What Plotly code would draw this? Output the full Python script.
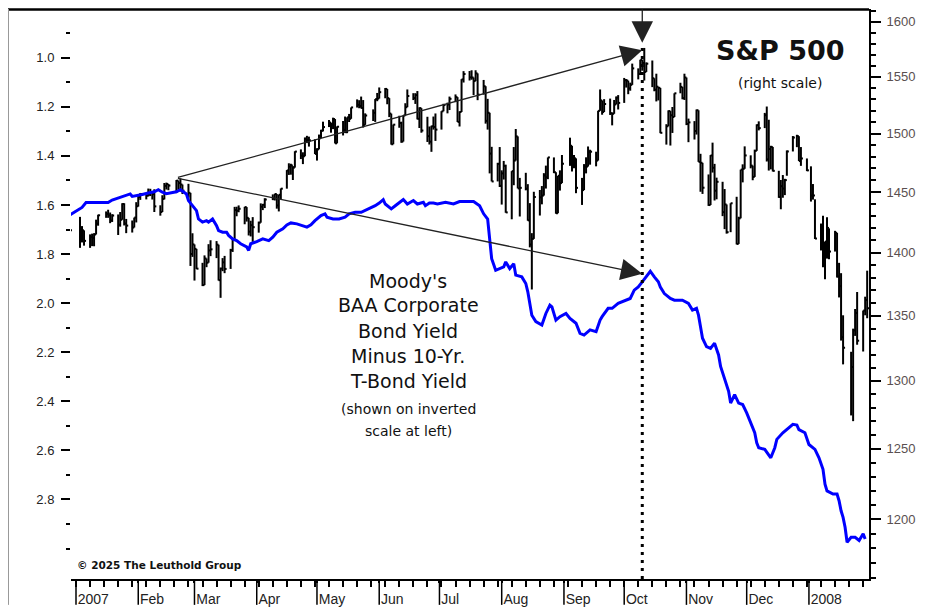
import math
import pandas as pd
import plotly.graph_objects as go

# ---------------- data ----------------
holidays = ["2007-01-01", "2007-01-02", "2007-01-15", "2007-02-19", "2007-04-06",
            "2007-05-28", "2007-07-04", "2007-09-03", "2007-11-22", "2007-12-25",
            "2008-01-01", "2008-01-21"]
trade_days = pd.bdate_range("2006-12-29", "2008-01-30")
trade_days = trade_days[~trade_days.isin(pd.to_datetime(holidays))]

spx_close = [
    1418.3,
    1416.6, 1418.3, 1409.7, 1412.8, 1412.1, 1414.9, 1423.8, 1430.7, 1431.9, 1430.6, 1426.4, 1430.5, 1422.9, 1427.0, 1440.1, 1423.9, 1422.2, 1420.6, 1428.8, 1438.2,
    1445.9, 1448.4, 1447.0, 1448.0, 1450.0, 1448.3, 1438.1, 1433.4, 1444.3, 1455.3, 1456.8, 1455.5, 1459.7, 1457.6, 1456.4, 1451.2, 1449.4, 1399.0, 1406.8,
    1403.2, 1387.2, 1374.1, 1395.4, 1392.0, 1401.9, 1402.8, 1406.6, 1378.0, 1387.2, 1392.3, 1387.0, 1402.1, 1410.9, 1435.0, 1434.5, 1436.1, 1437.5, 1428.6, 1417.2, 1422.5, 1420.9,
    1424.6, 1437.8, 1439.4, 1443.8, 1444.6, 1448.4, 1438.9, 1447.8, 1452.9, 1468.3, 1471.5, 1472.5, 1470.7, 1484.4, 1480.9, 1480.4, 1495.4, 1494.3, 1494.1, 1482.4,
    1486.3, 1495.9, 1502.4, 1505.6, 1509.5, 1507.7, 1512.6, 1491.5, 1505.9, 1503.2, 1501.2, 1514.1, 1512.8, 1522.8, 1525.1, 1524.1, 1522.3, 1507.5, 1515.7, 1518.1, 1530.2, 1530.6,
    1536.3, 1539.2, 1531.0, 1517.4, 1490.7, 1507.7, 1509.1, 1493.0, 1515.7, 1523.0, 1532.9, 1531.1, 1533.7, 1512.8, 1522.2, 1502.6, 1497.7, 1492.9, 1506.3, 1505.7, 1503.4,
    1519.4, 1524.9, 1525.4, 1530.4, 1531.9, 1510.1, 1518.8, 1547.7, 1552.5, 1549.5, 1549.4, 1546.2, 1553.1, 1534.1, 1541.6, 1511.0, 1518.1, 1482.7, 1459.0, 1473.9, 1455.3,
    1465.8, 1472.2, 1433.1, 1467.7, 1476.7, 1497.5, 1453.1, 1453.6, 1452.9, 1426.5, 1406.7, 1411.3, 1445.9, 1445.6, 1447.1, 1464.1, 1462.5, 1479.4, 1466.8, 1432.4, 1463.8, 1457.6, 1474.0,
    1489.4, 1472.3, 1478.6, 1453.6, 1451.7, 1471.5, 1471.6, 1484.0, 1484.3, 1476.7, 1519.8, 1529.0, 1518.8, 1525.8, 1517.7, 1517.2, 1525.4, 1531.4, 1526.8,
    1547.0, 1546.6, 1539.6, 1542.8, 1557.6, 1552.6, 1565.2, 1562.5, 1554.4, 1561.8, 1548.7, 1538.5, 1541.2, 1540.1, 1500.6, 1506.3, 1519.6, 1515.9, 1514.4, 1535.3, 1541.0, 1531.0, 1549.4,
    1508.4, 1509.7, 1502.2, 1520.3, 1475.6, 1474.8, 1453.7, 1439.2, 1481.1, 1470.6, 1451.2, 1458.7, 1433.3, 1439.7, 1416.8, 1440.7, 1407.2, 1428.2, 1469.0, 1469.7, 1481.1,
    1472.4, 1462.8, 1485.0, 1507.3, 1504.7, 1516.0, 1477.7, 1486.6, 1488.4, 1468.0, 1445.9, 1455.0, 1453.0, 1460.1, 1484.5, 1496.5, 1497.7, 1476.3, 1478.5, 1468.4,
    1447.2, 1447.2, 1411.6, 1416.2, 1390.2, 1409.1, 1420.3, 1401.0, 1416.3, 1381.0, 1373.2, 1333.3, 1325.2, 1310.5, 1338.6, 1352.1, 1330.6, 1354.0, 1362.3, 1355.8,
]
spx_high = [
    1427.0,
    1429.4, 1421.8, 1418.3, 1415.0, 1415.6, 1416.0, 1427.1, 1431.2, 1433.9, 1435.3, 1433.0, 1431.6, 1431.4, 1433.4, 1440.7, 1440.7, 1427.7, 1426.4, 1428.8, 1441.6,
    1446.6, 1449.3, 1449.3, 1453.0, 1452.8, 1450.0, 1452.4, 1439.0, 1447.4, 1457.7, 1458.0, 1456.8, 1460.2, 1459.7, 1461.6, 1456.4, 1457.0, 1449.4, 1415.9,
    1406.8, 1403.2, 1391.9, 1397.9, 1395.4, 1407.0, 1410.2, 1409.5, 1406.6, 1388.1, 1395.7, 1397.5, 1403.2, 1411.5, 1437.7, 1437.8, 1438.9, 1437.7, 1437.5, 1428.6, 1426.2, 1429.2,
    1425.5, 1440.6, 1440.2, 1444.9, 1448.1, 1448.7, 1448.4, 1448.0, 1453.1, 1468.6, 1474.4, 1474.0, 1472.0, 1484.7, 1486.3, 1483.8, 1496.6, 1498.0, 1497.3, 1495.0,
    1487.3, 1499.1, 1503.3, 1510.3, 1511.8, 1509.5, 1513.8, 1512.6, 1506.2, 1510.9, 1514.8, 1514.1, 1517.1, 1522.8, 1529.9, 1529.2, 1532.4, 1529.3, 1517.6, 1521.1, 1530.2, 1535.6,
    1540.5, 1540.0, 1539.2, 1531.0, 1517.4, 1507.8, 1515.5, 1510.3, 1515.7, 1526.5, 1538.7, 1535.4, 1535.4, 1537.3, 1522.9, 1522.2, 1514.6, 1506.1, 1506.8, 1514.8, 1517.5,
    1519.5, 1526.0, 1527.0, 1532.4, 1534.3, 1531.9, 1519.4, 1547.9, 1555.1, 1555.2, 1555.9, 1549.4, 1555.9, 1553.1, 1547.2, 1541.6, 1530.4, 1518.1, 1488.5, 1474.8, 1488.3,
    1468.4, 1476.4, 1473.2, 1467.7, 1488.3, 1503.9, 1497.5, 1462.0, 1466.3, 1456.7, 1440.8, 1416.0, 1450.3, 1451.8, 1455.1, 1466.0, 1472.4, 1479.4, 1479.4, 1466.8, 1463.8, 1468.4, 1481.5,
    1496.4, 1489.4, 1481.5, 1478.6, 1462.0, 1473.7, 1479.5, 1488.8, 1486.0, 1484.3, 1519.9, 1538.7, 1529.0, 1530.1, 1530.6, 1518.4, 1529.4, 1532.5, 1533.7,
    1549.0, 1548.0, 1546.6, 1544.8, 1561.9, 1557.6, 1565.4, 1565.4, 1576.1, 1563.0, 1564.7, 1548.7, 1552.8, 1541.2, 1540.1, 1508.1, 1520.2, 1519.6, 1523.2, 1535.3, 1544.7, 1541.0, 1552.8,
    1549.4, 1513.0, 1510.8, 1521.0, 1520.3, 1482.5, 1474.8, 1464.9, 1481.4, 1492.1, 1473.9, 1462.2, 1458.7, 1452.6, 1439.7, 1440.7, 1446.1, 1429.5, 1469.0, 1473.5, 1488.9,
    1481.2, 1472.4, 1486.1, 1508.0, 1510.6, 1518.0, 1523.6, 1512.0, 1489.4, 1488.4, 1468.0, 1460.2, 1464.4, 1461.2, 1485.4, 1497.8, 1498.9, 1497.7, 1488.3, 1478.5,
    1471.8, 1456.8, 1444.0, 1423.9, 1430.3, 1409.2, 1429.1, 1419.9, 1417.9, 1416.3, 1391.9, 1383.6, 1350.3, 1322.1, 1339.9, 1355.2, 1368.6, 1354.0, 1364.9, 1385.6,
]
spx_low = [
    1416.8,
    1404.0, 1408.4, 1405.8, 1404.0, 1405.4, 1405.3, 1414.9, 1422.1, 1428.6, 1428.6, 1424.2, 1425.2, 1414.5, 1421.3, 1427.0, 1422.3, 1416.0, 1416.5, 1420.6, 1424.8,
    1437.9, 1443.5, 1443.9, 1446.4, 1446.7, 1443.8, 1433.4, 1430.4, 1433.4, 1443.9, 1452.2, 1451.6, 1449.2, 1452.0, 1450.5, 1448.4, 1445.5, 1389.4, 1396.7,
    1377.7, 1386.9, 1373.3, 1374.1, 1388.4, 1392.0, 1397.3, 1395.7, 1377.7, 1364.0, 1385.2, 1383.6, 1387.0, 1400.7, 1409.8, 1429.9, 1433.2, 1423.3, 1425.5, 1414.1, 1413.3, 1408.9,
    1416.4, 1424.6, 1435.0, 1436.7, 1443.3, 1443.0, 1436.2, 1433.9, 1444.1, 1452.9, 1464.5, 1464.7, 1460.2, 1470.7, 1478.0, 1473.7, 1480.4, 1491.7, 1488.7, 1482.3,
    1476.7, 1486.3, 1495.9, 1501.8, 1505.6, 1500.7, 1503.8, 1491.4, 1491.5, 1498.3, 1500.4, 1500.3, 1510.0, 1512.8, 1522.7, 1522.1, 1521.9, 1505.2, 1507.5, 1510.9, 1510.1, 1528.3,
    1530.6, 1530.9, 1525.6, 1514.3, 1490.4, 1490.7, 1505.0, 1492.0, 1493.0, 1515.7, 1523.0, 1529.3, 1525.9, 1512.3, 1504.8, 1500.7, 1492.7, 1490.5, 1484.2, 1503.4, 1493.6,
    1503.4, 1519.4, 1517.6, 1520.5, 1527.5, 1510.0, 1506.1, 1518.8, 1544.9, 1546.7, 1547.4, 1533.7, 1546.2, 1529.2, 1534.1, 1508.6, 1503.4, 1465.8, 1459.0, 1459.0, 1454.3,
    1439.6, 1460.6, 1432.8, 1427.4, 1455.8, 1476.7, 1453.1, 1429.7, 1451.5, 1426.2, 1404.4, 1370.6, 1411.3, 1430.5, 1439.8, 1447.1, 1453.0, 1460.9, 1466.0, 1432.0, 1432.4, 1451.3, 1457.6,
    1472.2, 1467.4, 1470.1, 1449.1, 1439.3, 1451.7, 1465.8, 1471.6, 1473.2, 1471.8, 1476.7, 1519.8, 1516.4, 1518.8, 1516.2, 1507.1, 1517.2, 1525.4, 1521.0,
    1526.8, 1540.4, 1534.5, 1537.6, 1542.8, 1547.7, 1551.6, 1555.5, 1546.7, 1554.4, 1540.8, 1537.1, 1528.1, 1529.0, 1500.3, 1490.4, 1506.3, 1489.6, 1500.5, 1514.4, 1535.3, 1530.0, 1529.4,
    1507.3, 1492.5, 1494.8, 1499.1, 1475.6, 1450.3, 1448.5, 1438.5, 1439.2, 1466.5, 1443.0, 1444.0, 1430.0, 1419.3, 1415.6, 1416.8, 1406.8, 1407.2, 1428.2, 1458.2, 1469.7,
    1470.1, 1460.0, 1462.8, 1485.0, 1502.7, 1504.7, 1475.9, 1468.2, 1469.2, 1467.4, 1445.2, 1435.7, 1445.3, 1447.5, 1463.8, 1484.5, 1488.2, 1476.3, 1472.2, 1467.7,
    1442.1, 1443.7, 1411.2, 1401.9, 1388.3, 1378.7, 1395.3, 1394.8, 1401.0, 1380.1, 1364.3, 1330.7, 1312.5, 1274.3, 1270.1, 1334.3, 1327.5, 1322.3, 1350.3, 1348.0,
]

spread_dates = [
    "2006-12-29", "2007-01-02", "2007-01-04", "2007-01-06", "2007-01-17", "2007-01-19", "2007-01-21", "2007-01-23",
    "2007-01-26", "2007-01-28", "2007-01-29", "2007-02-01", "2007-02-03", "2007-02-06", "2007-02-09", "2007-02-11",
    "2007-02-13", "2007-02-15", "2007-02-18", "2007-02-20", "2007-02-22", "2007-02-25", "2007-02-26", "2007-02-28",
    "2007-03-02", "2007-03-03", "2007-03-05", "2007-03-07", "2007-03-08", "2007-03-10", "2007-03-12", "2007-03-13",
    "2007-03-15", "2007-03-17", "2007-03-18", "2007-03-20", "2007-03-22", "2007-03-24", "2007-03-27", "2007-03-28",
    "2007-03-29", "2007-04-01", "2007-04-04", "2007-04-07", "2007-04-09", "2007-04-11", "2007-04-14", "2007-04-16",
    "2007-04-18", "2007-04-21", "2007-04-24", "2007-04-26", "2007-04-28", "2007-04-30", "2007-05-03", "2007-05-05",
    "2007-05-06", "2007-05-09", "2007-05-12", "2007-05-15", "2007-05-17", "2007-05-20", "2007-05-23", "2007-05-25",
    "2007-05-28", "2007-05-30", "2007-06-01", "2007-06-03", "2007-06-04", "2007-06-07", "2007-06-09", "2007-06-13",
    "2007-06-15", "2007-06-18", "2007-06-20", "2007-06-23", "2007-06-24", "2007-06-26", "2007-06-28", "2007-06-30",
    "2007-07-04", "2007-07-08", "2007-07-11", "2007-07-18", "2007-07-21", "2007-07-23", "2007-07-25", "2007-07-26",
    "2007-07-27", "2007-07-29", "2007-07-31", "2007-08-02", "2007-08-03", "2007-08-05", "2007-08-07", "2007-08-08",
    "2007-08-11", "2007-08-13", "2007-08-14", "2007-08-15", "2007-08-16", "2007-08-18", "2007-08-21", "2007-08-23",
    "2007-08-25", "2007-08-26", "2007-08-28", "2007-08-30", "2007-09-02", "2007-09-04", "2007-09-07", "2007-09-09",
    "2007-09-11", "2007-09-14", "2007-09-17", "2007-09-19", "2007-09-20", "2007-09-23", "2007-09-25", "2007-09-28",
    "2007-09-30", "2007-10-01", "2007-10-04", "2007-10-06", "2007-10-08", "2007-10-10", "2007-10-13", "2007-10-14",
    "2007-10-16", "2007-10-18", "2007-10-19", "2007-10-21", "2007-10-24", "2007-10-26", "2007-10-30", "2007-11-02",
    "2007-11-04", "2007-11-06", "2007-11-07", "2007-11-08", "2007-11-09", "2007-11-11", "2007-11-13", "2007-11-15",
    "2007-11-17", "2007-11-18", "2007-11-20", "2007-11-22", "2007-11-23", "2007-11-25", "2007-11-27", "2007-11-29",
    "2007-12-01", "2007-12-03", "2007-12-05", "2007-12-06", "2007-12-07", "2007-12-10", "2007-12-11", "2007-12-13",
    "2007-12-15", "2007-12-16", "2007-12-19", "2007-12-21", "2007-12-24", "2007-12-26", "2007-12-27", "2007-12-30",
    "2008-01-01", "2008-01-04", "2008-01-06", "2008-01-08", "2008-01-09", "2008-01-10", "2008-01-13", "2008-01-15",
    "2008-01-16", "2008-01-17", "2008-01-18", "2008-01-19", "2008-01-20", "2008-01-22", "2008-01-24", "2008-01-26",
    "2008-01-28", "2008-01-29",
]
spread_vals = [
    1.640, 1.620, 1.610, 1.590, 1.590, 1.580, 1.575, 1.570,
    1.562, 1.555, 1.565, 1.562, 1.557, 1.551, 1.546, 1.538,
    1.548, 1.554, 1.551, 1.546, 1.538, 1.555, 1.582, 1.603,
    1.623, 1.657, 1.670, 1.664, 1.670, 1.657, 1.684, 1.704,
    1.711, 1.711, 1.724, 1.738, 1.745, 1.758, 1.771, 1.785,
    1.758, 1.749, 1.738, 1.745, 1.731, 1.711, 1.697, 1.681,
    1.673, 1.677, 1.684, 1.690, 1.681, 1.664, 1.643, 1.636,
    1.650, 1.657, 1.657, 1.650, 1.636, 1.630, 1.630, 1.623,
    1.613, 1.603, 1.592, 1.578, 1.596, 1.616, 1.603, 1.578,
    1.596, 1.582, 1.596, 1.589, 1.603, 1.592, 1.592, 1.596,
    1.589, 1.596, 1.586, 1.586, 1.603, 1.636, 1.657, 1.738,
    1.819, 1.866, 1.859, 1.852, 1.832, 1.859, 1.839, 1.886,
    1.893, 1.920, 1.954, 1.994, 2.049, 2.075, 2.089, 2.042,
    2.008, 2.015, 2.069, 2.055, 2.042, 2.062, 2.082, 2.123,
    2.130, 2.109, 2.116, 2.069, 2.055, 2.021, 2.021, 2.001,
    1.994, 1.992, 1.981, 1.947, 1.934, 1.913, 1.884, 1.870,
    1.893, 1.913, 1.934, 1.961, 1.981, 1.988, 1.988, 2.001,
    2.028, 2.021, 2.049, 2.089, 2.143, 2.177, 2.184, 2.163,
    2.211, 2.258, 2.312, 2.359, 2.407, 2.373, 2.407, 2.413,
    2.447, 2.488, 2.528, 2.569, 2.589, 2.596, 2.609, 2.630,
    2.589, 2.555, 2.528, 2.515, 2.494, 2.497, 2.515, 2.528,
    2.576, 2.596, 2.630, 2.677, 2.738, 2.765, 2.778, 2.778,
    2.805, 2.846, 2.873, 2.913, 2.974, 2.954, 2.954, 2.967,
    2.940, 2.961,
]

month_ticks = ["2007-01-01", "2007-02-01", "2007-03-01", "2007-04-01", "2007-05-01", "2007-06-01",
               "2007-07-01", "2007-08-01", "2007-09-01", "2007-10-01", "2007-11-01", "2007-12-01", "2008-01-01"]
month_labels = ["2007", "Feb", "Mar", "Apr", "May", "Jun", "Jul", "Aug", "Sep", "Oct", "Nov", "Dec", "2008"]

spx_ticks = [1200, 1250, 1300, 1350, 1400, 1450, 1500, 1550, 1600]
spx_minor = list(range(1160, 1620, 10))
spread_ticks = [1.0, 1.2, 1.4, 1.6, 1.8, 2.0, 2.2, 2.4, 2.6, 2.8]
spread_minor = [0.9, 1.1, 1.3, 1.5, 1.7, 1.9, 2.1, 2.3, 2.5, 2.7, 2.9, 3.0]

# annotation anchors
divergence_start = "2007-02-20"
start_spx = 1462
start_spread = 1.49
peak_date = "2007-10-10"
peak_spx = 1574
peak_spread = 1.88

# ---------------- figure ----------------
n = min(len(trade_days), len(spx_close), len(spx_high), len(spx_low))
bx, by = [], []
for d, h, l, c in zip(trade_days[:n], spx_high[:n], spx_low[:n], spx_close[:n]):
    bx += [d, d, None, d, d + pd.Timedelta(hours=24), None]
    by += [l, h, None, c, c, None]

fig = go.Figure()
fig.add_trace(go.Scatter(x=bx, y=by, mode="lines", yaxis="y",
                         line=dict(color="black", width=2), hoverinfo="skip"))
fig.add_trace(go.Scatter(x=pd.to_datetime(spread_dates), y=spread_vals, mode="lines", yaxis="y2",
                         line=dict(color="#0000ff", width=3)))

# the page adds an 8px body margin: figure pixels = screen pixels - 8
OFF = 8
W, H = 925 - OFF, 608 - OFF
L, R, T, B = 71, 869, 9, 582          # plot area in screen pixels
ph = B - T
pw = R - L


def py(p):
    return (B - p) / ph


def px(p):
    return (p - L) / pw


tickfont = dict(family="Liberation Sans, Arial, sans-serif", size=13, color="#222")

fig.update_layout(
    width=W, height=H,
    margin=dict(l=L - OFF, r=W - (R - OFF), t=T - OFF, b=H - (B - OFF), pad=0),
    paper_bgcolor="white", plot_bgcolor="white",
    showlegend=False,
    xaxis=dict(
        type="date", range=["2006-12-29 12:14", "2008-01-30 21:50"],
        showgrid=False, zeroline=False,
        showline=True, linecolor="black", linewidth=2,
        tickmode="array", tickvals=month_ticks, ticktext=month_labels,
        ticks="outside", ticklen=2, tickwidth=1.5, tickcolor="black",
        ticklabelposition="outside right", ticklabelstandoff=6,
        tickfont=dict(family="Liberation Sans, Arial, sans-serif", size=14, color="#222"),
        minor=dict(tickmode="linear", tick0="2007-01-01", dtick=7 * 86400000,
                   ticks="outside", ticklen=6, tickwidth=1.5, tickcolor="black"),
    ),
    yaxis=dict(
        type="log", side="right", range=[3.064186, 3.207369],
        showgrid=False, zeroline=False,
        showline=True, linecolor="black", linewidth=2,
        tickmode="array", tickvals=spx_ticks, ticktext=[str(v) for v in spx_ticks],
        ticks="outside", ticklen=10, tickwidth=1.5, tickcolor="black",
        ticklabelstandoff=3,
        tickfont=dict(family="Liberation Sans, Arial, sans-serif", size=13, color="#5a5050"),
        minor=dict(tickmode="array", tickvals=spx_minor, ticks="outside", ticklen=5,
                   tickwidth=1.5, tickcolor="black"),
    ),
    yaxis2=dict(
        overlaying="y", side="left", range=[3.124, 0.8014],
        showgrid=False, zeroline=False, showline=False,
        tickmode="array", tickvals=spread_ticks, ticktext=["%.1f" % v for v in spread_ticks],
        ticks="outside", ticklen=9, tickwidth=1.5, tickcolor="black",
        ticklabelstandoff=4,
        tickfont=tickfont,
        minor=dict(tickmode="array", tickvals=spread_minor, ticks="outside", ticklen=4,
                   tickwidth=1.5, tickcolor="black"),
    ),
)

shapes = []
# long month separators below the axis
for m in month_ticks:
    shapes.append(dict(type="line", xref="x", yref="paper", x0=m, x1=m, y0=0, y1=py(608),
                       line=dict(color="black", width=1.5)))
# dotted vertical marker at the peak
shapes.append(dict(type="line", xref="x", yref="paper", x0=peak_date, x1=peak_date,
                   y0=0, y1=py(47), line=dict(color="black", width=3, dash="3px,5px")))
# frame lines
shapes.append(dict(type="line", xref="paper", yref="paper", x0=px(8), x1=1, y0=py(9.5), y1=py(9.5),
                   line=dict(color="black", width=2.5)))
shapes.append(dict(type="line", xref="paper", yref="paper", x0=px(8.5), x1=px(8.5), y0=py(9), y1=py(608),
                   line=dict(color="#999", width=1)))
fig.update_layout(shapes=shapes)

ann = []
arrow_style = dict(showarrow=True, arrowhead=2, arrowsize=3.3, arrowwidth=1.3, arrowcolor="#222",
                   text="", standoff=0)
# log axis: annotation coordinates are given in log10 units
ann.append(dict(x=peak_date, y=math.log10(peak_spx), xref="x", yref="y",
                ax=divergence_start, ay=math.log10(start_spx), axref="x", ayref="y", **arrow_style))
ann.append(dict(x=peak_date, y=peak_spread, xref="x", yref="y2",
                ax=divergence_start, ay=start_spread, axref="x", ayref="y2", **arrow_style))
ann.append(dict(x=peak_date, y=py(43), xref="x", yref="paper", ax=0, ay=-36, **arrow_style))

txt_font = "DejaVu Sans, Lato, sans-serif"
ann.append(dict(x=px(780), y=py(51), xref="paper", yref="paper", showarrow=False,
                text="<b>S&amp;P 500</b>", font=dict(family=txt_font, size=27, color="#111"),
                xanchor="center", yanchor="middle"))
ann.append(dict(x=px(780), y=py(83), xref="paper", yref="paper", showarrow=False,
                text="(right scale)", font=dict(family=txt_font, size=14, color="#111"),
                xanchor="center", yanchor="middle"))
big_lines = ["Moody's", "BAA Corporate", "Bond Yield", "Minus 10-Yr.", "T-Bond Yield"]
big_y = [282, 307, 333, 358, 383]
for t, yy in zip(big_lines, big_y):
    ann.append(dict(x=px(408), y=py(yy), xref="paper", yref="paper", showarrow=False,
                    text=t, font=dict(family=txt_font, size=19, color="#111"),
                    xanchor="center", yanchor="middle"))
small_lines = ["(shown on inverted", "scale at left)"]
small_y = [411, 433]
for t, yy in zip(small_lines, small_y):
    ann.append(dict(x=px(408), y=py(yy), xref="paper", yref="paper", showarrow=False,
                    text=t, font=dict(family=txt_font, size=14, color="#111"),
                    xanchor="center", yanchor="middle"))
ann.append(dict(x=px(75), y=py(568), xref="paper", yref="paper", showarrow=False,
                text="<b>© 2025 The Leuthold Group</b>",
                font=dict(family=txt_font, size=10.5, color="#111"),
                xanchor="left", yanchor="middle"))
fig.update_layout(annotations=ann)

fig.write_html("out.html")
